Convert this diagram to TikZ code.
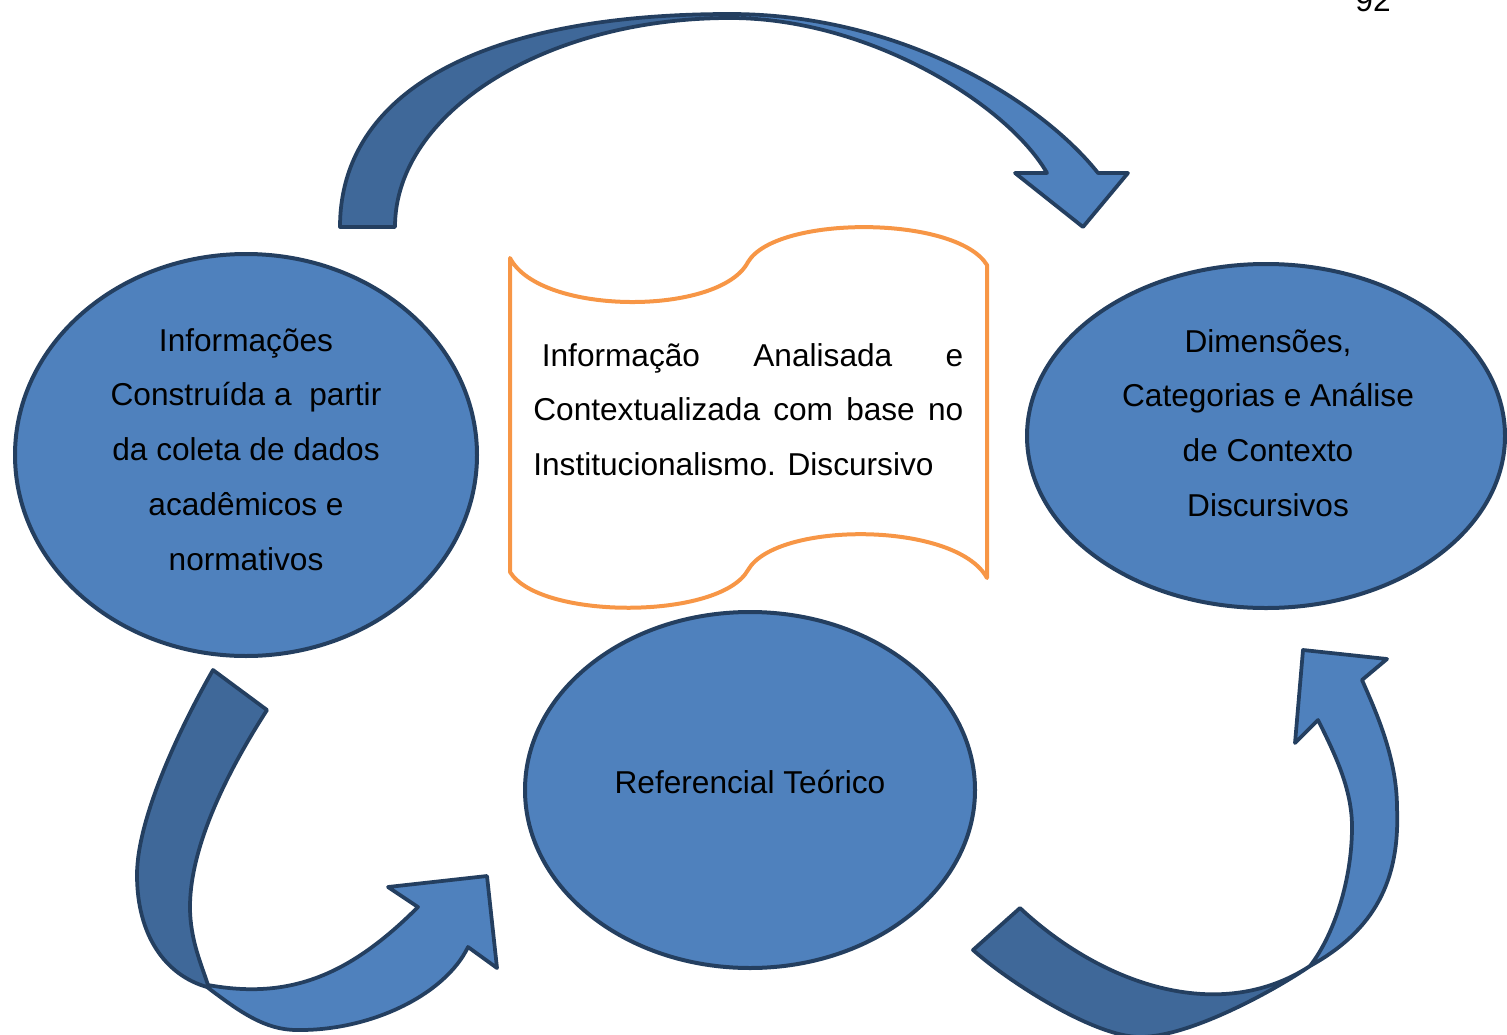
\documentclass[tikz,border=0pt]{standalone}
\usepackage{fontspec}
\setmainfont{Liberation Sans}
\usetikzlibrary{shapes.geometric}
\definecolor{ovalfill}{HTML}{4F81BD}
\definecolor{ovaledge}{HTML}{243F60}
\definecolor{bandback}{HTML}{3F6899}
\definecolor{scrolledge}{HTML}{F79646}

\begin{document}
\begin{tikzpicture}[x=0.02cm,y=-0.02cm,
  oval/.style={ellipse, draw=ovaledge, fill=ovalfill, line width=0.08cm, inner sep=0pt},
  front/.style={fill=ovalfill, draw=ovaledge, line width=0.075cm, line join=round},
  back/.style={fill=bandback, draw=ovaledge, line width=0.075cm, line join=round},
  lbl/.style={font=\fontsize{18}{31.3}\selectfont, inner sep=0pt, text=black},
]
\useasboundingbox (0,0) rectangle (1507,1034);

% page number
\node[lbl, anchor=base] (pagenum) at (1373,12) {92};

% curved arrow over the top: back band, then front band with its head
\path[back] (340,227) .. controls (340,93) and (480,14) .. (730,14)
  -- (730,18) .. controls (546,18) and (395,112) .. (395,227) -- cycle;
\path[front] (730,14) .. controls (900,14) and (1040,100) .. (1098,173)
  -- (1128,173) -- (1083,227) -- (1015,173) -- (1047,173)
  .. controls (1008,105) and (870,18) .. (730,18) -- cycle;

% curved arrow at the lower left
\path[back] (213,670) .. controls (178,731) and (137,820) .. (137,875)
  .. controls (137,935) and (165,975) .. (207,987)
  -- (208,985) .. controls (202,966) and (190,940) .. (190,907)
  .. controls (190,845) and (229,769) .. (267,710) -- cycle;
\path[front] (207,987) .. controls (240,1012) and (265,1030) .. (297,1030)
  .. controls (370,1031) and (445,995) .. (468,947)
  -- (497,968) -- (487,876) -- (388,887) -- (418,907)
  .. controls (350,975) and (290,1000) .. (208,985) -- cycle;

% curved arrow at the lower right
\path[back] (1020,908) .. controls (1100,983) and (1218,1026) .. (1310,966)
  .. controls (1275,990) and (1190,1037) .. (1140,1037)
  .. controls (1095,1037) and (1010,983) .. (973,950) -- cycle;
\path[front] (1310,966) .. controls (1375,930) and (1400,880) .. (1397,808)
  .. controls (1397,760) and (1378,716) .. (1362,680)
  -- (1387,659) -- (1303,650) -- (1295,743) -- (1318,720)
  .. controls (1336,756) and (1352,790) .. (1352,827)
  .. controls (1352,880) and (1334,935) .. (1310,966) -- cycle;

% the three ovals
\node[oval, minimum width=462*0.02cm, minimum height=402*0.02cm] (source) at (246,455) {};
\node[oval, minimum width=478*0.02cm, minimum height=344*0.02cm] (result) at (1266,436) {};
\node[oval, minimum width=450*0.02cm, minimum height=356*0.02cm] (theory) at (750,790) {};

% scroll in the middle
\draw[scrolledge, line width=0.08cm, line join=round]
  (510,258) .. controls (540,316) and (720,316) .. (748,262)
  .. controls (776,215) and (956,215) .. (987,265) -- (987,578)
  .. controls (956,521) and (776,521) .. (748,570)
  .. controls (720,620) and (540,620) .. (510,572) -- cycle;

% texts
\node[lbl, anchor=base] (sourcetext) at (246,351) {\parbox[t]{9cm}{\centering Informações\\Construída a\ \ partir\\da coleta de dados\\acadêmicos e\\normativos}};
\node[lbl, anchor=base] (resulttext) at (1268,352) {\parbox[t]{9cm}{\centering Dimensões,\\Categorias e Análise\\de Contexto\\Discursivos}};
\node[lbl, anchor=base] (theorytext) at (750,793) {Referencial Teórico};
\node[lbl, anchor=base west] (scrolltext) at (533,366) {\parbox[t]{8.6cm}{\hspace*{0.17cm}Informação Analisada e\linebreak Contextualizada com base no\linebreak Institucionalismo. Discursivo}};
\end{tikzpicture}
\end{document}
